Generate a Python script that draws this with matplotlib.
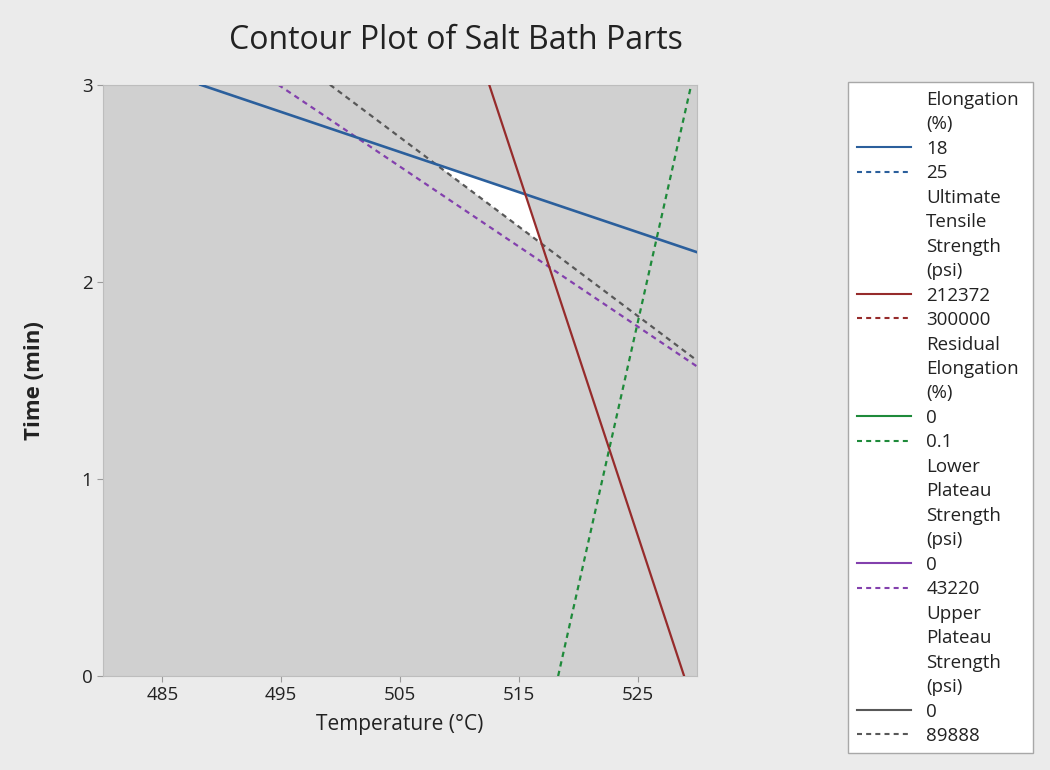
import numpy as np
import matplotlib
matplotlib.use("Agg")
import matplotlib.pyplot as plt
from matplotlib.lines import Line2D

plt.rcParams['font.family'] = ['Open Sans', 'DejaVu Sans']

# contour lines inside the window: (temperature, time) end points
elong_18_temp = [488.2, 530.0]
elong_18_time = [3.0, 2.15]
uts_212372_temp = [512.5, 528.9]
uts_212372_time = [3.0, 0.0]
resid_01_temp = [518.3, 529.5]
resid_01_time = [0.0, 3.0]
lower_43220_temp = [494.75, 530.0]
lower_43220_time = [3.0, 1.57]
upper_89888_temp = [499.1, 530.0]
upper_89888_time = [3.0, 1.60]

x_ticks = [485, 495, 505, 515, 525]
y_ticks = [0, 1, 2, 3]

# legend groups: header words, contour levels, colour
legend_groups = [
    (["Elongation", "(%)"], ["18", "25"], "#2b5f9c"),
    (["Ultimate", "Tensile", "Strength", "(psi)"], ["212372", "300000"], "#962b2b"),
    (["Residual", "Elongation", "(%)"], ["0", "0.1"], "#1e8a3a"),
    (["Lower", "Plateau", "Strength", "(psi)"], ["0", "43220"], "#8340ad"),
    (["Upper", "Plateau", "Strength", "(psi)"], ["0", "89888"], "#585858"),
]
blue, red, green, purple, grey = [g[2] for g in legend_groups]
dash = (2.4, 2.0)


def intersect(xa, ya, xb, yb):
    # crossing point of two straight lines given by two points each
    ma = (ya[1] - ya[0]) / (xa[1] - xa[0])
    mb = (yb[1] - yb[0]) / (xb[1] - xb[0])
    x = (yb[0] - ya[0] + ma * xa[0] - mb * xb[0]) / (ma - mb)
    return x, ya[0] + ma * (x - xa[0])


fig = plt.figure(figsize=(10.5, 7.7), dpi=100)
fig.patch.set_facecolor("#ebebeb")
ax = fig.add_axes([0.098, 0.122, 0.566, 0.768])
ax.set_facecolor("#d0d0d0")

# feasible region: below elongation 18, left of UTS, above upper plateau
p1 = intersect(elong_18_temp, elong_18_time, upper_89888_temp, upper_89888_time)
p2 = intersect(elong_18_temp, elong_18_time, uts_212372_temp, uts_212372_time)
p3 = intersect(uts_212372_temp, uts_212372_time, upper_89888_temp, upper_89888_time)
ax.fill([p1[0], p2[0], p3[0]], [p1[1], p2[1], p3[1]], color="white", zorder=1, lw=0)

ax.plot(lower_43220_temp, lower_43220_time, color=purple, lw=1.6, dashes=dash, zorder=2)
ax.plot(upper_89888_temp, upper_89888_time, color=grey, lw=1.6, dashes=dash, zorder=3)
ax.plot(resid_01_temp, resid_01_time, color=green, lw=1.6, dashes=dash, zorder=3)
ax.plot(elong_18_temp, elong_18_time, color=blue, lw=1.9, zorder=4)
ax.plot(uts_212372_temp, uts_212372_time, color=red, lw=1.6, zorder=4)

ax.set_xlim(480, 530)
ax.set_ylim(0, 3)
ax.set_xticks(x_ticks)
ax.set_yticks(y_ticks)
ax.tick_params(colors="#9a9a9a", labelcolor="#222222", labelsize=13.5, length=4)
for s in ax.spines.values():
    s.set_color("#bdbdbd")

ax.set_xlabel("Temperature (°C)", fontsize=15, color="#222222", labelpad=7)
ax.set_ylabel("Time (min)", fontsize=16, color="#222222", fontweight="bold")
ax.yaxis.set_label_coords(-0.098, 0.5)
fig.text(0.434, 0.948, "Contour Plot of Salt Bath Parts", fontsize=23,
         color="#222222", ha="center", va="center")

handles = []
labels = []
for header, levels, color in legend_groups:
    for word in header:
        handles.append(Line2D([], [], linestyle="none"))
        labels.append(word)
    handles.append(Line2D([], [], color=color, lw=1.5))
    labels.append(levels[0])
    handles.append(Line2D([], [], color=color, lw=1.5, dashes=dash))
    labels.append(levels[1])

leg = fig.legend(handles, labels, loc="upper left", bbox_to_anchor=(0.808, 0.893, 0.176, 0.0),
                 mode="expand", fontsize=13.5, labelspacing=0.345, handlelength=2.9,
                 handletextpad=0.8, borderpad=0.45, borderaxespad=0, fancybox=False,
                 framealpha=1, edgecolor="#a8a8a8")
for t in leg.get_texts():
    t.set_color("#222222")

fig.savefig("out.png", dpi=100, facecolor=fig.get_facecolor())
